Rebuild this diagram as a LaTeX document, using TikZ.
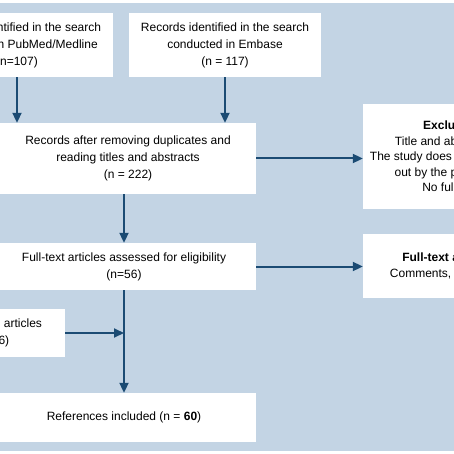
\documentclass[tikz,border=0pt]{standalone}
\usepackage{fontspec}
\setmainfont{Liberation Sans}
\usetikzlibrary{arrows.meta}
\definecolor{bgblue}{RGB}{195,212,228}
\definecolor{arrowblue}{RGB}{27,75,115}
\begin{document}
\begin{tikzpicture}[x=1pt,y=-1pt,
  box/.style={draw=none,fill=white,inner sep=0pt,align=center,font=\fontsize{12}{17}\selectfont},
  conn/.style={draw=arrowblue,line width=2pt,-{Triangle[length=10pt,width=9pt]}}]
\useasboundingbox (0,0) rectangle (454,454);
\clip (0,0) rectangle (454,454);
\fill[white] (0,0) rectangle (454,454);
\fill[bgblue] (0,3) rectangle (454,451);
\node[box,minimum width=192pt,minimum height=64pt] (pub) at (17,45)
  {Records identified in the search\\conducted in PubMed/Medline\\(n=107)};
\node[box,minimum width=192pt,minimum height=64pt] (emb) at (225,45)
  {Records identified in the search\\conducted in Embase\\(n = 117)};
\node[box,minimum width=256pt,minimum height=71pt] (rec) at (128,158.5)
  {Records after removing duplicates and\\reading titles and abstracts\\(n = 222)};
\node[box,minimum width=264pt,minimum height=47pt] (full) at (124,266.5)
  {Full-text articles assessed for eligibility\\(n=56)};
\node[box,minimum width=264pt,minimum height=49pt] (ref) at (124,417.5)
  {References included (n = \textbf{60})};
\node[box,minimum width=226pt,minimum height=105pt,font=\fontsize{12}{15.5}\selectfont] (exc) at (476,156.5)
  {\textbf{Excluded (n = 166)}\\Title and abstract: not relevant\\The study does not refer to work carried\\out by the physician assistants\\No full text available};
\node[box,minimum width=226pt,minimum height=64pt,font=\fontsize{12}{16}\selectfont] (ftx) at (476,266)
  {\textbf{Full-text articles excluded}\\Comments, letters and editorials};
\node[box,minimum width=140pt,minimum height=48pt] (add) at (-5,333)
  {Additional articles\\(n=6)};
\coordinate (join) at (add.east -| full.south);
\draw[conn] (pub.south) -- (pub.south |- rec.north);
\draw[conn] (emb.south) -- (emb.south |- rec.north);
\draw[conn] (rec.east) -- (rec.east -| exc.west);
\draw[conn] (full.north |- rec.south) -- (full.north);
\draw[conn] (full.east) -- (full.east -| ftx.west);
\draw[conn] (full.south) -- (ref.north);
\draw[conn] (add.east) -- (join);
\end{tikzpicture}
\end{document}
